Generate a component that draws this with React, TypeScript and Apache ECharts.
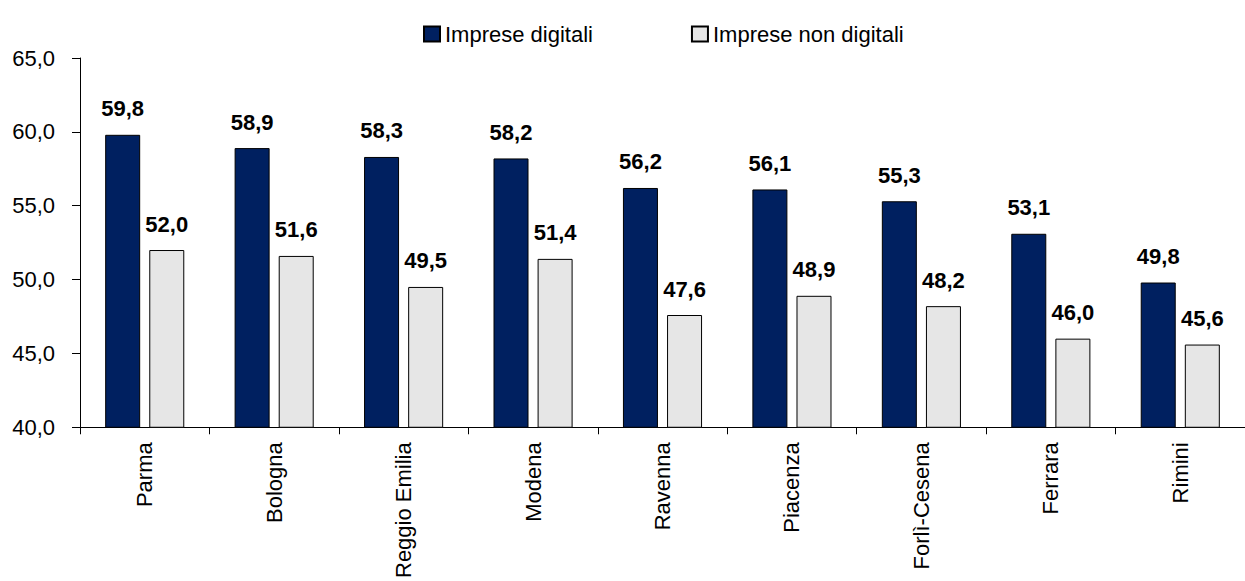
import React, { useEffect, useRef } from "react";
import * as echarts from "echarts";

const categories = ["Parma", "Bologna", "Reggio Emilia", "Modena", "Ravenna", "Piacenza", "Forlì-Cesena", "Ferrara", "Rimini"];
const digitali = [59.8, 58.9, 58.3, 58.2, 56.2, 56.1, 55.3, 53.1, 49.8];
const nonDigitali = [52.0, 51.6, 49.5, 51.4, 47.6, 48.9, 48.2, 46.0, 45.6];
const yTicks = { min: 40, max: 65, step: 5 };

const FONT = "'Liberation Sans', Arial, sans-serif";
const fmt = (v: number) => v.toFixed(1).replace(".", ",");

export default function App() {
  const ref = useRef<HTMLDivElement>(null);
  useEffect(() => {
    const chart = echarts.init(ref.current!, null, { renderer: "svg" });
    const label = {
      show: true,
      position: "top" as const,
      distance: 15,
      fontFamily: FONT,
      fontSize: 22,
      fontWeight: "bold" as const,
      color: "#000",
      formatter: (p: any) => fmt(p.value),
    };
    chart.setOption({
      animation: false,
      textStyle: { fontFamily: FONT },
      legend: {
        top: 18,
        left: 418,
        itemGap: 98,
        itemWidth: 16,
        itemHeight: 15,
        textStyle: { fontFamily: FONT, fontSize: 22, color: "#000" },
        data: [
          { name: "Imprese digitali", icon: "rect" },
          { name: "Imprese non digitali", icon: "rect" },
        ],
      },
      grid: { left: 80, top: 58, width: 1176, height: 370, containLabel: false },
      xAxis: {
        type: "category",
        data: categories,
        axisLine: { lineStyle: { color: "#000", width: 1 } },
        axisTick: { show: true, length: 7, lineStyle: { color: "#000" } },
        axisLabel: { rotate: 90, fontFamily: FONT, fontSize: 22, color: "#000", margin: 15, interval: 0 },
      },
      yAxis: {
        type: "value",
        min: yTicks.min,
        max: yTicks.max,
        interval: yTicks.step,
        splitLine: { show: false },
        axisLine: { show: true, lineStyle: { color: "#000", width: 1 } },
        axisTick: { show: true, length: 8, lineStyle: { color: "#000" } },
        axisLabel: { fontFamily: FONT, fontSize: 22, color: "#000", margin: 25, formatter: (v: number) => fmt(v) },
      },
      series: [
        {
          name: "Imprese digitali",
          type: "bar",
          data: digitali,
          barWidth: 35,
          barGap: "26%",
          itemStyle: { color: "#002060", borderColor: "#000", borderWidth: 1 },
          label,
        },
        {
          name: "Imprese non digitali",
          type: "bar",
          data: nonDigitali,
          barWidth: 35,
          barGap: "26%",
          itemStyle: { color: "#e6e6e6", borderColor: "#000", borderWidth: 1 },
          label,
        },
      ],
    });
    return () => chart.dispose();
  }, []);
  return <div ref={ref} style={{ position: "absolute", left: 0, top: 0, width: 1245, height: 581 }} />;
}
